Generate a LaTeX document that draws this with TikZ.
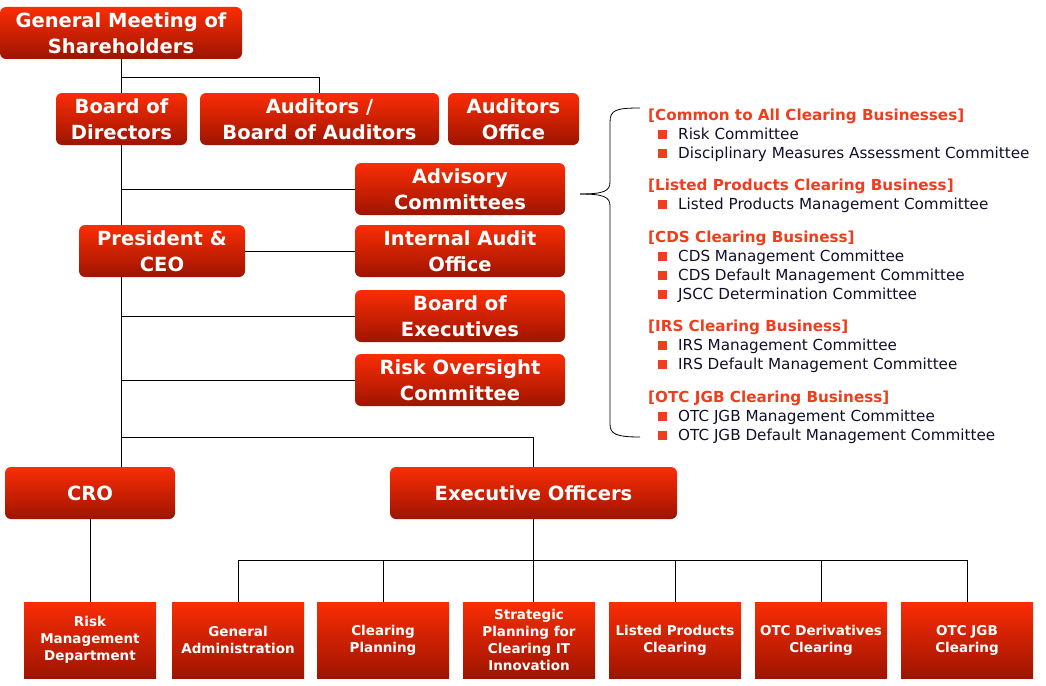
\documentclass[tikz,border=0pt]{standalone}
\usepackage{fontspec}
\setmainfont{DejaVu Sans}
\usetikzlibrary{backgrounds}
\definecolor{boxtop}{RGB}{250,45,5}
\definecolor{boxbot}{RGB}{158,20,0}
\definecolor{headred}{RGB}{238,62,30}
\definecolor{itemtext}{RGB}{15,15,40}
\begin{document}
\begin{tikzpicture}[x=1pt,y=-1pt,
 box/.style={rounded corners=6pt, top color=boxtop, bottom color=boxbot, draw=none, text=white, font=\bfseries\fontsize{19.5}{26}\selectfont, align=center, inner sep=0pt, minimum height=52pt},
 sbox/.style={top color=boxtop, bottom color=boxbot, draw=none, text=white, font=\bfseries\fontsize{13.5}{17}\selectfont, align=center, minimum width=132pt, minimum height=76pt, inner sep=0pt},
 conn/.style={draw=black, line width=1pt},
 head/.style={anchor=base west, text=headred, font=\bfseries\fontsize{15.2}{17}\selectfont, inner sep=0pt},
 item/.style={anchor=base west, text=itemtext, font=\fontsize{15.2}{17}\selectfont, inner sep=0pt},
 bul/.style={fill=headred, minimum size=9pt, inner sep=0pt, anchor=center},
]
\useasboundingbox (0,0) rectangle (1046,685);
% boxes
\node[box, minimum width=242pt] (gm) at (121,33) {General Meeting of\\Shareholders};
\node[box, minimum width=131pt] (bod) at (121.5,119) {Board of\\Directors};
\node[box, minimum width=239pt] (aud) at (319.5,119) {Auditors /\\Board of Auditors};
\node[box, minimum width=131pt] (audo) at (513.5,119) {Auditors\\Office};
\node[box, minimum width=210pt] (adv) at (460,189) {Advisory\\Committees};
\node[box, minimum width=166pt] (pres) at (162,251) {President \&\\CEO};
\node[box, minimum width=210pt] (iao) at (460,251) {Internal Audit\\Office};
\node[box, minimum width=210pt] (boe) at (460,316) {Board of\\Executives};
\node[box, minimum width=210pt] (roc) at (460,380) {Risk Oversight\\Committee};
\node[box, minimum width=170pt] (cro) at (90,493) {CRO};
\node[box, minimum width=287pt] (eo) at (533.5,493) {Executive Officers};
\node[sbox] (b1) at (90,640) {Risk\\Management\\Department};
\node[sbox] (b2) at (238,640) {General\\Administration};
\node[sbox] (b3) at (383,640) {Clearing\\Planning};
\node[sbox] (b4) at (529,640) {Strategic\\Planning for\\Clearing IT\\Innovation};
\node[sbox] (b5) at (675,640) {Listed Products\\Clearing};
\node[sbox] (b6) at (821,640) {OTC Derivatives\\Clearing};
\node[sbox] (b7) at (967,640) {OTC JGB\\Clearing};
% connectors
\coordinate (j1) at (121.5,77);
\coordinate (j2) at (121.5,437);
\coordinate (j3) at (238,560);
\begin{scope}[on background layer]
\draw[conn] (gm.south -| bod.north) -- (bod.north);
\draw[conn] (j1) -| (aud.north);
\draw[conn] (bod.south) -- (bod.south |- cro.north);
\draw[conn] (bod.south |- adv.west) -- (adv.west);
\draw[conn] (pres.east) -- (iao.west);
\draw[conn] (bod.south |- boe.west) -- (boe.west);
\draw[conn] (bod.south |- roc.west) -- (roc.west);
\draw[conn] (j2) -| (eo.north);
\draw[conn] (cro.south) -- (b1.north -| cro.south);
\draw[conn] (eo.south) -- (eo.south |- b4.north);
\draw[conn] (b2.north |- j3) -- (b7.north |- j3);
\foreach \b in {b2,b3,b5,b6,b7} \draw[conn] (\b.north |- j3) -- (\b.north);
\end{scope}
% brace
\coordinate (brt) at (640,108);
\coordinate (brm) at (580,194);
\coordinate (brb) at (640,437);
\draw[line width=0.8pt] (brt) .. controls (616,108) and (610,110) .. (610,122) -- (610,182) .. controls (610,191) and (604,194) .. (brm);
\draw[line width=0.8pt] (brm) .. controls (604,194) and (610,197) .. (610,206) -- (610,424) .. controls (610,434) and (616,437) .. (brb);
% right text
\node[head] (h1) at (648,120) {[Common to All Clearing Businesses]};
\node[bul] (u1) at (662,134) {}; \node[item] (i1) at (678,139) {Risk Committee};
\node[bul] (u2) at (662,153) {}; \node[item] (i2) at (678,158) {Disciplinary Measures Assessment Committee};
\node[head] (h2) at (648,190) {[Listed Products Clearing Business]};
\node[bul] (u3) at (662,204) {}; \node[item] (i3) at (678,209) {Listed Products Management Committee};
\node[head] (h3) at (648,242) {[CDS Clearing Business]};
\node[bul] (u4) at (662,256) {}; \node[item] (i4) at (678,261) {CDS Management Committee};
\node[bul] (u5) at (662,275) {}; \node[item] (i5) at (678,280) {CDS Default Management Committee};
\node[bul] (u6) at (662,294) {}; \node[item] (i6) at (678,299) {JSCC Determination Committee};
\node[head] (h4) at (648,331) {[IRS Clearing Business]};
\node[bul] (u7) at (662,345) {}; \node[item] (i7) at (678,350) {IRS Management Committee};
\node[bul] (u8) at (662,364) {}; \node[item] (i8) at (678,369) {IRS Default Management Committee};
\node[head] (h5) at (648,402) {[OTC JGB Clearing Business]};
\node[bul] (u9) at (662,416) {}; \node[item] (i9) at (678,421) {OTC JGB Management Committee};
\node[bul] (u10) at (662,435) {}; \node[item] (i10) at (678,440) {OTC JGB Default Management Committee};
\end{tikzpicture}
\end{document}
